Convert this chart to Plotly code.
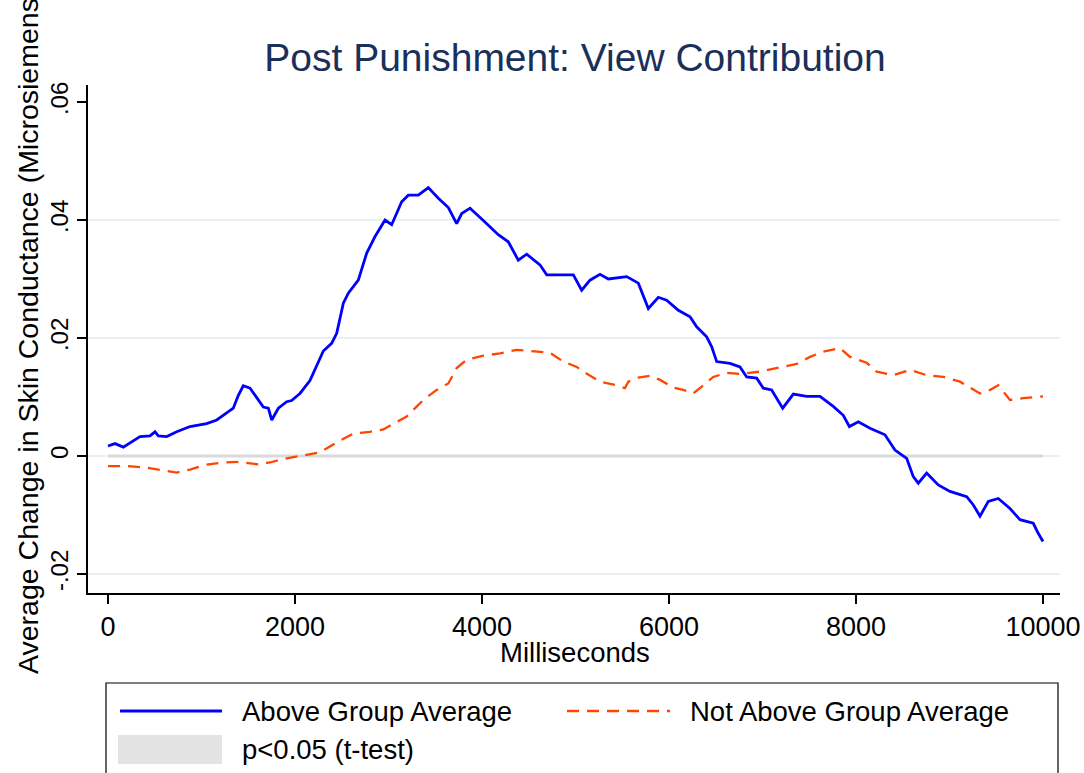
import plotly.graph_objects as go

# Time axis (ms) and mean change in skin conductance for each group
t_above = [0, 75, 164, 342, 449, 503, 538, 628, 735, 877, 1055, 1163, 1269, 1340,
           1394, 1447, 1519, 1608, 1661, 1715, 1751, 1822, 1911, 1964, 2053, 2160,
           2232, 2303, 2392, 2446, 2517, 2570, 2677, 2767, 2856, 2963, 3034, 3141,
           3212, 3319, 3426, 3533, 3640, 3729, 3783, 3872, 4014, 4174, 4281, 4388,
           4478, 4620, 4692, 4834, 4977, 5066, 5155, 5262, 5351, 5548, 5672, 5779,
           5886, 5975, 6100, 6225, 6296, 6403, 6457, 6510, 6652, 6759, 6831, 6938,
           7009, 7098, 7216, 7330, 7473, 7615, 7757, 7864, 7929, 8025, 8150, 8310,
           8417, 8542, 8613, 8666, 8756, 8880, 9005, 9184, 9255, 9326, 9415, 9522,
           9647, 9754, 9896, 9949, 10000]
above = [.0017, .0021, .0015, .0033, .0034, .0041, .0034, .0033, .0041, .0050, .0055,
         .0061, .0073, .0081, .0103, .0119, .0115, .0095, .0083, .0081, .0061, .0081,
         .0092, .0094, .0106, .0128, .0153, .0178, .0191, .0208, .0259, .0276, .0298,
         .0344, .0372, .0400, .0392, .0431, .0442, .0442, .0455, .0437, .0421, .0394,
         .0411, .0420, .0399, .0375, .0363, .0332, .0342, .0324, .0307, .0307, .0307,
         .0281, .0298, .0308, .0300, .0304, .0293, .0250, .0269, .0264, .0247, .0236,
         .0219, .0202, .0185, .0160, .0157, .0151, .0134, .0132, .0115, .0112, .0081,
         .0105, .0101, .0101, .0084, .0069, .0050, .0058, .0047, .0036, .0010, -.0004,
         -.0035, -.0046, -.0029, -.0049, -.0060, -.0069, -.0083, -.0102, -.0077,
         -.0072, -.0089, -.0108, -.0114, -.0131, -.0145]

t_not_above = [0, 200, 414, 556, 735, 877, 1037, 1233, 1412, 1590, 1733, 1875, 2053,
               2267, 2446, 2624, 2802, 2945, 3194, 3373, 3515, 3640, 3729, 3836, 4014,
               4193, 4371, 4549, 4727, 4870, 5013, 5083, 5262, 5440, 5529, 5565, 5672,
               5797, 5904, 6046, 6153, 6260, 6332, 6474, 6617, 6759, 6973, 7152, 7366,
               7508, 7650, 7829, 7936, 8114, 8221, 8399, 8578, 8756, 8934, 9112, 9326,
               9433, 9522, 9647, 9789, 10000]
not_above = [-.0017, -.0017, -.0020, -.0024, -.0028, -.0023, -.0015, -.0011, -.0010,
             -.0014, -.0011, -.0005, .0000, .0006, .0023, .0038, .0041, .0045, .0067,
             .0095, .0112, .0123, .0149, .0163, .0170, .0174, .0180, .0177, .0175,
             .0160, .0151, .0143, .0126, .0120, .0115, .0126, .0133, .0136, .0129,
             .0116, .0112, .0106, .0115, .0134, .0141, .0139, .0143, .0149, .0156,
             .0168, .0177, .0183, .0168, .0158, .0143, .0137, .0146, .0137, .0134,
             .0126, .0106, .0112, .0120, .0095, .0098, .0101]

y_ticks = [-0.02, 0, 0.02, 0.04, 0.06]
y_ticktext = ["-.02", "0", ".02", ".04", ".06"]
x_ticks = [0, 2000, 4000, 6000, 8000, 10000]
grid_levels = [-0.02, 0, 0.02, 0.04]

legend_labels = ["Above Group Average", "Not Above Group Average", "p<0.05 (t-test)"]

BLUE = "#0000ff"
ORANGE = "#ff4500"
NAVY = "#1a2f5a"
FONT = "Liberation Sans, Arial, sans-serif"
DASH = "12px,8px"

W, H = 1084, 773
M_L, M_R, M_T, M_B = 88, 24, 85, 180
PW, PH = W - M_L - M_R, H - M_T - M_B


def px(x):
    return (x - M_L) / PW


def py(y):
    return (H - M_B - y) / PH


fig = go.Figure()

shapes = []
for g in grid_levels:
    shapes.append(dict(type="line", xref="paper", yref="y", x0=0, x1=1, y0=g, y1=g,
                       line=dict(color="#e9f0f2", width=2), layer="below"))
# significance band baseline along zero
shapes.append(dict(type="line", xref="x", yref="y", x0=t_above[0], x1=t_above[-1],
                   y0=0, y1=0, line=dict(color="#dadada", width=3), layer="below"))

fig.add_trace(go.Scatter(x=t_above, y=above, mode="lines", name=legend_labels[0],
                         line=dict(color=BLUE, width=2.8), showlegend=False))
fig.add_trace(go.Scatter(x=t_not_above, y=not_above, mode="lines", name=legend_labels[1],
                         line=dict(color=ORANGE, width=2.3, dash=DASH),
                         showlegend=False))

# legend box drawn below the plot
shapes.append(dict(type="rect", xref="paper", yref="paper", x0=px(106), x1=px(1058),
                   y0=py(800), y1=py(683), line=dict(color="black", width=1.2),
                   fillcolor="white"))
shapes.append(dict(type="line", xref="paper", yref="paper", x0=px(120), x1=px(222),
                   y0=py(711), y1=py(711), line=dict(color=BLUE, width=2.8)))
shapes.append(dict(type="line", xref="paper", yref="paper", x0=px(567), x1=px(670),
                   y0=py(711), y1=py(711), line=dict(color=ORANGE, width=2.3, dash=DASH)))
shapes.append(dict(type="rect", xref="paper", yref="paper", x0=px(118), x1=px(222),
                   y0=py(764), y1=py(735), line=dict(width=0), fillcolor="#e3e3e3"))

annotations = [
    dict(text=legend_labels[0], x=px(240), y=py(711), xanchor="left", yanchor="middle"),
    dict(text=legend_labels[1], x=px(688), y=py(711), xanchor="left", yanchor="middle"),
    dict(text=legend_labels[2], x=px(240), y=py(749), xanchor="left", yanchor="middle"),
]
for a in annotations:
    a.update(xref="paper", yref="paper", showarrow=False,
             font=dict(family=FONT, size=27.5, color="black"))

# axis titles
annotations.append(dict(text="Milliseconds", x=px(575), y=py(652), xref="paper",
                        yref="paper", xanchor="center", yanchor="middle",
                        showarrow=False, font=dict(family=FONT, size=27.5, color="black")))
annotations.append(dict(text="Average Change in Skin Conductance (Microsiemens)",
                        x=px(28), y=py(332), xref="paper", yref="paper",
                        xanchor="center", yanchor="middle", textangle=-90,
                        showarrow=False, font=dict(family=FONT, size=28.5, color="black")))

fig.update_layout(
    width=W, height=H,
    margin=dict(l=M_L, r=M_R, t=M_T, b=M_B, autoexpand=False),
    paper_bgcolor="white", plot_bgcolor="white",
    font=dict(family=FONT, color="black"),
    title=dict(text="Post Punishment: View Contribution", xref="paper", x=px(575),
               xanchor="center", y=1 - 57 / H, yanchor="middle",
               font=dict(family=FONT, size=39, color=NAVY)),
    shapes=shapes, annotations=annotations,
    showlegend=False,
)
fig.update_xaxes(
    range=[-214, 10182], tickvals=x_ticks, ticktext=[str(v) for v in x_ticks],
    showgrid=False, zeroline=False, showline=True, linecolor="black", linewidth=1.5,
    ticks="outside", ticklen=9, tickwidth=1.5, tickcolor="black",
    tickfont=dict(family=FONT, size=27), automargin=False,
)
fig.update_yaxes(
    range=[-0.02322, 0.06288], tickvals=y_ticks, ticktext=y_ticktext, tickangle=-90,
    showgrid=False, zeroline=False, showline=True, linecolor="black", linewidth=1.5,
    ticks="outside", ticklen=9, tickwidth=1.5, tickcolor="black",
    tickfont=dict(family=FONT, size=24), automargin=False,
)

fig.write_html("out.html")
